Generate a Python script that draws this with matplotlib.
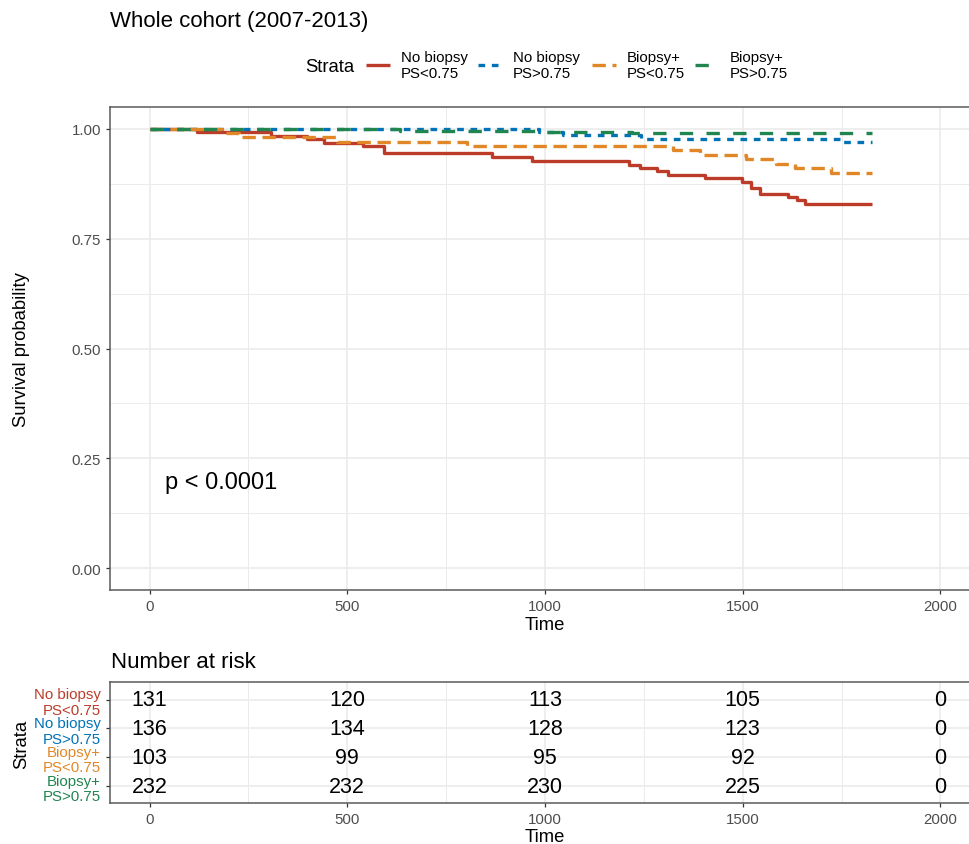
import matplotlib
matplotlib.use("Agg")
import matplotlib.pyplot as plt
from matplotlib.lines import Line2D

plt.rcParams['font.family'] = ['Liberation Sans', 'DejaVu Sans']

# ---------------- data ----------------
title = "Whole cohort (2007-2013)"
strata_labels = ["No biopsy\nPS<0.75", "No biopsy\nPS>0.75", "Biopsy+\nPS<0.75", "Biopsy+\nPS>0.75"]
colors = ["#BC3C29", "#0072B5", "#E18727", "#20854E"]

red_t = [0, 120, 306, 398, 440, 541, 592, 866, 968, 1212, 1240, 1282, 1311, 1404, 1497,
         1522, 1543, 1614, 1636, 1657, 1826]
red_s = [1.0, 0.992, 0.985, 0.977, 0.969, 0.962, 0.946, 0.937, 0.928, 0.919, 0.912, 0.904,
         0.895, 0.888, 0.880, 0.865, 0.853, 0.846, 0.838, 0.828, 0.828]

blue_t = [0, 985, 1046, 1244, 1753, 1826]
blue_s = [1.0, 0.9926, 0.9853, 0.9779, 0.970, 0.970]

orange_t = [0, 184, 226, 474, 803, 1324, 1391, 1509, 1585, 1633, 1722, 1826]
orange_s = [1.0, 0.990, 0.981, 0.971, 0.961, 0.951, 0.941, 0.931, 0.920, 0.910, 0.899, 0.899]

green_t = [0, 634, 990, 1219, 1826]
green_s = [1.0, 0.9957, 0.9935, 0.9912, 0.9912]

curve_times = [red_t, blue_t, orange_t, green_t]
curve_surv = [red_s, blue_s, orange_s, green_s]

pval_text = "p < 0.0001"

risk_times = [0, 500, 1000, 1500, 2000]
risk_red = [131, 120, 113, 105, 0]
risk_blue = [136, 134, 128, 123, 0]
risk_orange = [103, 99, 95, 92, 0]
risk_green = [232, 232, 230, 225, 0]
risk_counts = [risk_red, risk_blue, risk_orange, risk_green]

x_ticks = [0, 500, 1000, 1500, 2000]
y_ticks = [0.0, 0.25, 0.50, 0.75, 1.00]
y_ticklabels = ["0.00", "0.25", "0.50", "0.75", "1.00"]

# ---------------- style ----------------
W, H = 970, 845
linestyles = ['-', (0, (2, 2)), (0, (4, 2)), (0, (4, 4))]
LW = 2.4
TICK_FS = 10.8
TICK_COL = "#4D4D4D"
GRID_COL = "#EBEBEB"
SPINE_COL = "#5A5A5A"
LSP = 1.15


def fx(px):
    return px / W


def fy(py):
    return 1 - py / H


fig = plt.figure(figsize=(W / 100, H / 100), dpi=100)

# main KM panel
ax = fig.add_axes([fx(110), fy(591), 870 / W, 483 / H])
for t, s, c, ls in zip(curve_times, curve_surv, colors, linestyles):
    ax.step(t, s, where='post', color=c, lw=LW, linestyle=ls,
            dash_capstyle='butt', solid_capstyle='butt', zorder=3)

ax.set_xlim(-100, 2100)
ax.set_ylim(-0.05, 1.05)
ax.set_xticks(x_ticks)
ax.set_xticks([250, 750, 1250, 1750], minor=True)
ax.set_yticks(y_ticks)
ax.set_yticklabels(y_ticklabels)
ax.set_yticks([0.125, 0.375, 0.625, 0.875], minor=True)
ax.grid(True, which='major', color=GRID_COL, lw=1.2, zorder=0)
ax.grid(True, which='minor', color=GRID_COL, lw=0.7, zorder=0)
ax.set_axisbelow(True)
ax.tick_params(which='major', length=3, width=0.9, color="#333333",
               labelsize=TICK_FS, labelcolor=TICK_COL, pad=3.5)
ax.tick_params(which='minor', length=0)
for sp in ax.spines.values():
    sp.set_color(SPINE_COL)
    sp.set_linewidth(1.1)
    sp.set_zorder(5)
ax.set_xlabel("Time", fontsize=13.3, labelpad=2)
ax.text(40, 0.197, pval_text, fontsize=17, ha='left', va='center')

fig.text(fx(22), fy(350), "Survival probability", rotation=90, fontsize=13.3,
         ha='center', va='center')

# title
fig.text(fx(110), fy(21), title, fontsize=16, ha='left', va='center')

# legend (manual, horizontal with title at left)
fig.text(fx(305), fy(67), "Strata", fontsize=13.3, ha='left', va='center')
key_x = [366, 478, 592, 695]
for kx, c, ls, lab in zip(key_x, colors, linestyles, strata_labels):
    fig.add_artist(Line2D([fx(kx), fx(kx + 24)], [fy(66), fy(66)], transform=fig.transFigure,
                          color=c, lw=LW, linestyle=ls, dash_capstyle='butt',
                          solid_capstyle='butt'))
    fig.text(fx(kx + 35), fy(66), lab, fontsize=10.8, ha='left', va='center',
             linespacing=LSP)

# risk table
fig.text(fx(111), fy(663), "Number at risk", fontsize=16, ha='left', va='center')
tab = fig.add_axes([fx(110), fy(804.3), 870 / W, 121 / H])
nrow = len(risk_counts)
row_y = [nrow - i for i in range(nrow)]
for counts, yy in zip(risk_counts, row_y):
    for t, n in zip(risk_times, counts):
        tab.text(t, yy, str(n), fontsize=15.5, ha='center', va='center', zorder=4)
tab.set_xlim(-100, 2100)
tab.set_ylim(0.4, nrow + 0.6)
tab.set_xticks(x_ticks)
tab.set_xticks([250, 750, 1250, 1750], minor=True)
tab.set_yticks(row_y)
tab.set_yticklabels(strata_labels, fontsize=TICK_FS, linespacing=LSP, ha='right')
for lbl, c in zip(tab.get_yticklabels(), colors):
    lbl.set_color(c)
    lbl.set_multialignment('right')
tab.grid(True, which='major', color=GRID_COL, lw=1.2, zorder=0)
tab.grid(True, which='minor', axis='x', color=GRID_COL, lw=0.7, zorder=0)
tab.set_axisbelow(True)
tab.tick_params(which='major', length=3, width=0.9, color="#333333",
                labelsize=TICK_FS, pad=3.5)
tab.tick_params(axis='x', labelcolor=TICK_COL)
tab.tick_params(which='minor', length=0)
for sp in tab.spines.values():
    sp.set_color(SPINE_COL)
    sp.set_linewidth(1.1)
    sp.set_zorder(5)
tab.set_xlabel("Time", fontsize=13.3, labelpad=1)
fig.text(fx(22), fy(744), "Strata", rotation=90, fontsize=13.3, ha='center', va='center')

fig.savefig("out.png", dpi=100, facecolor='white')
